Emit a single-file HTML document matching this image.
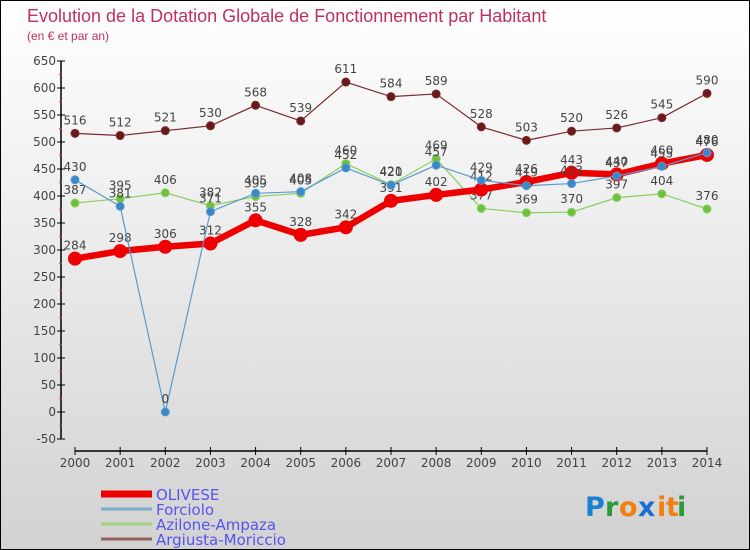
<!DOCTYPE html>
<html><head><meta charset="utf-8">
<style>
html,body{margin:0;padding:0}
body{width:750px;height:550px;overflow:hidden;font-family:"DejaVu Sans","Liberation Sans",sans-serif}
#wrap{position:relative;width:748px;height:548px;border:1px solid #000;background:linear-gradient(#ffffff 0%,#f2f2f2 30%,#d2d2d2 100%)}
</style></head><body>
<div id="wrap">
<svg id="chart" width="748" height="548" style="position:absolute;left:0;top:0">
<text x="26" y="21" font-size="18" fill="#c0305e" font-family="Liberation Sans, sans-serif">Evolution de la Dotation Globale de Fonctionnement par Habitant</text>
<text x="26" y="39" font-size="12" fill="#c0305e" font-family="Liberation Sans, sans-serif">(en € et par an)</text>
<g id="axes"></g>
<g id="series"></g>
<g id="legend"></g>
<g font-size="27" font-family="DejaVu Sans, sans-serif" font-weight="bold">
<text x="584" y="515" fill="#1a80d0">P</text><text x="604" y="515" fill="#2a9a3a">r</text><text x="618" y="515" fill="#f08010">o</text><text x="637" y="515" fill="#1a70d0">x</text><text x="656" y="515" fill="#f08010">i</text><text x="665" y="515" fill="#f08010">t</text><text x="676" y="515" fill="#2a9a3a">i</text>
</g>
</svg>
</div>
<script>
const years=[2000,2001,2002,2003,2004,2005,2006,2007,2008,2009,2010,2011,2012,2013,2014];
const olivese=[284,298,306,312,355,328,342,391,402,412,426,443,440,460,476];
const forciolo=[430,381,0,371,405,408,452,420,457,429,419,423,437,455,480];
const azilone=[387,395,406,382,399,405,460,421,469,377,369,370,397,404,376];
const argiusta=[516,512,521,530,568,539,611,584,589,528,503,520,526,545,590];
const yTicks=[-50,0,50,100,150,200,250,300,350,400,450,500,550,600,650];
const NS='http://www.w3.org/2000/svg';
function X(i){return 74+i*(632/(years.length-1));}
function Y(v){return 60+(650-v)*0.54;}
function mk(tag,attrs,parent){const e=document.createElementNS(NS,tag);for(const k in attrs)e.setAttribute(k,attrs[k]);parent.appendChild(e);return e;}
const axes=document.getElementById('axes');
const ya=mk('line',{x1:60,y1:Y(650),x2:60,y2:Y(-50),stroke:'#000','stroke-width':1.5},axes);


yTicks.forEach((v,i)=>{
 const t=mk('line',{x1:56,x2:64,y1:Y(v),y2:Y(v),stroke:'#000'},axes);
 
 
 const l=mk('text',{x:55,y:Y(v)+4,'text-anchor':'end','font-size':12,fill:'#444'},axes);
 l.textContent=v;
 
 
 if(i<yTicks.length-1){
  const m=mk('line',{x1:58,x2:61,y1:Y(v+25),y2:Y(v+25),stroke:'#e33'},axes);
  
  
 }
});
const xa=mk('line',{x1:X(0),y1:450,x2:X(years.length-1),y2:450,stroke:'#000','stroke-width':1.5},axes);


years.forEach((yr,i)=>{
 const t=mk('line',{x1:X(i),x2:X(i),y1:446,y2:454,stroke:'#000'},axes);
 
 
 const l=mk('text',{x:X(i),y:466,'text-anchor':'middle','font-size':12,fill:'#444'},axes);
 l.textContent=yr;
 
 
});
const ser=document.getElementById('series');
function draw(name,vals,color,w,r,dot){
 const g=mk('g',{},ser);
 
 
 const p=mk('polyline',{points:vals.map((v,i)=>X(i)+','+Y(v)).join(' '),fill:'none',stroke:color,'stroke-width':w,'stroke-linejoin':'round'},g);
 
 
 vals.forEach((v,i)=>{
  const c=mk('circle',{cx:X(i),cy:Y(v),r:r,fill:dot,stroke:color,'stroke-width':1},g);
  
  
  const l=mk('text',{x:X(i),y:Y(v)-9,'text-anchor':'middle','font-size':12,fill:'#444'},g);
  l.textContent=v;
  
  
 });
}
draw('argiusta',argiusta,'#7a2a2a',1.2,4,'#6a1a1a');
draw('azilone',azilone,'#88d060',1.2,4,'#70c040');
draw('olivese',olivese,'#ee0000',6.5,6.5,'#ee0000');
draw('forciolo',forciolo,'#5a9ad0',1.2,4,'#3a88c8');
const lg=document.getElementById('legend');
const items=[['OLIVESE','#ee0000',7],['Forciolo','#80aacc',3],['Azilone-Ampaza','#a0d080',3],['Argiusta-Moriccio','#906060',3]];
items.forEach((it,i)=>{
 const y=493+i*15;
 const ln=mk('line',{x1:100,x2:151,y1:y,y2:y,stroke:it[1],'stroke-width':it[2]},lg);
 
 
 const t=mk('text',{x:155,y:y+6,'font-size':15,fill:'#5555ee'},lg);
 t.textContent=it[0];
 
 
});
</script>
</body></html>
